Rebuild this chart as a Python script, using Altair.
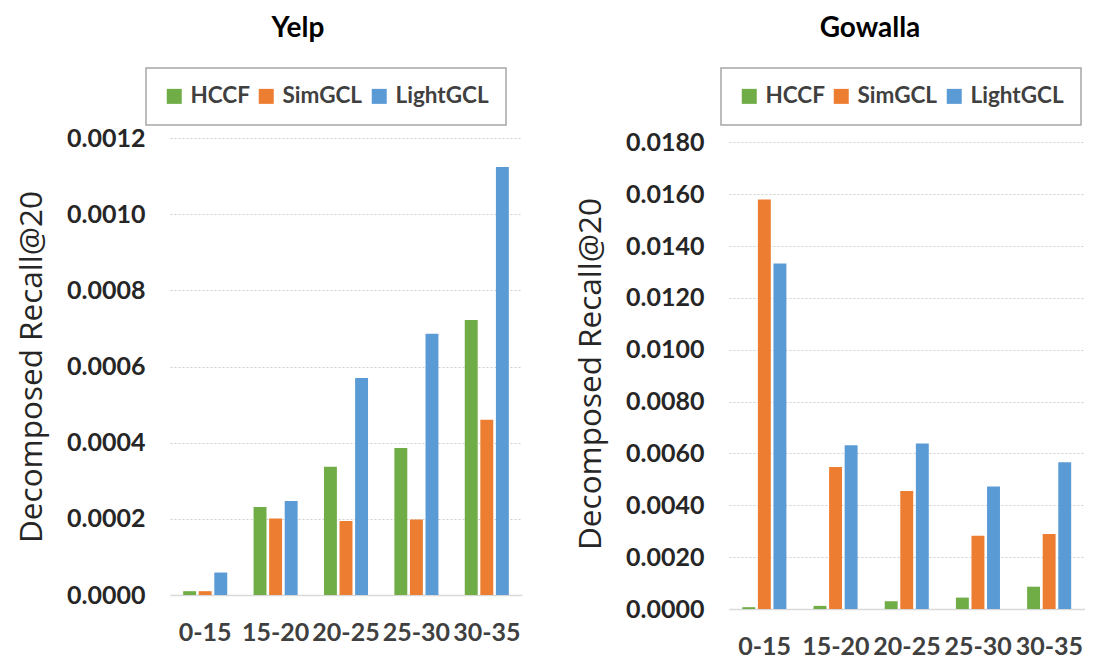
import altair as alt
import pandas as pd

categories = ["0-15", "15-20", "20-25", "25-30", "30-35"]
methods = ["HCCF", "SimGCL", "LightGCL"]
colors = ["#70ad47", "#ed7d31", "#5b9bd5"]

yelp_hccf = [0.00001, 0.000231, 0.000337, 0.000386, 0.000722]
yelp_simgcl = [0.00001, 0.000201, 0.000194, 0.000198, 0.00046]
yelp_lightgcl = [0.000059, 0.000247, 0.00057, 0.000686, 0.001124]

gowalla_hccf = [0.00007, 0.00012, 0.0003, 0.00044, 0.00086]
gowalla_simgcl = [0.0158, 0.00548, 0.00455, 0.00283, 0.00289]
gowalla_lightgcl = [0.01333, 0.00632, 0.00638, 0.00473, 0.00566]

yelp_ticks = [0.0, 0.0002, 0.0004, 0.0006, 0.0008, 0.0010, 0.0012]
gowalla_ticks = [0.0, 0.002, 0.004, 0.006, 0.008, 0.010, 0.012, 0.014, 0.016, 0.018]


def make_df(series):
    rows = []
    for m, vals in zip(methods, series):
        for c, v in zip(categories, vals):
            rows.append({"group": c, "method": m, "value": v})
    return pd.DataFrame(rows)


yelp_df = make_df([yelp_hccf, yelp_simgcl, yelp_lightgcl])
gowalla_df = make_df([gowalla_hccf, gowalla_simgcl, gowalla_lightgcl])

LABEL_FONT = "Lato"


def panel(df, title, ymax, ticks, w, h, legend_x, title_dx):
    return alt.Chart(df).mark_bar().encode(
        x=alt.X("group:N", sort=categories,
                scale=alt.Scale(paddingInner=0.374, paddingOuter=0.187),
                axis=alt.Axis(title=None, labelAngle=0, labelFont=LABEL_FONT,
                              labelFontWeight="bold", labelFontSize=25,
                              labelColor="#404040", labelPadding=25,
                              ticks=False, grid=False, domainColor="#d9d9d9",
                              domainWidth=1.5)),
        xOffset=alt.XOffset("method:N", sort=methods,
                            scale=alt.Scale(paddingInner=0.17, paddingOuter=0)),
        y=alt.Y("value:Q",
                scale=alt.Scale(domain=[0, ymax], nice=False, zero=True),
                axis=alt.Axis(title="Decomposed Recall@20", values=ticks, format=".4f",
                              labelFont=LABEL_FONT, labelFontWeight="bold",
                              labelFontSize=25, labelColor="#262626",
                              labelPadding=25, ticks=False, domain=False,
                              grid=True, gridColor="#d0d0d0", gridDash=[2, 2],
                              gridWidth=1.2,
                              titleFont="Open Sans", titleFontSize=31.5,
                              titleFontWeight="normal", titleColor="#262626",
                              titlePadding=18)),
        color=alt.Color("method:N", sort=methods,
                        scale=alt.Scale(domain=methods, range=colors),
                        legend=alt.Legend(orient="none", legendX=legend_x, legendY=-70,
                                          direction="horizontal", title=None,
                                          symbolType="square", symbolSize=225,
                                          symbolStrokeWidth=0,
                                          labelFont=LABEL_FONT, labelFontWeight="bold",
                                          labelFontSize=22.5, labelColor="#404040",
                                          labelOffset=5, columnPadding=5,
                                          padding=17, strokeColor="#a6a6a6",
                                          fillColor="white", labelLimit=300)),
    ).properties(
        width=w, height=h,
        title=alt.Title(title, font=LABEL_FONT, fontSize=28, fontWeight="bold",
                        color="black", anchor="middle", frame="group",
                        dx=title_dx, offset=24),
    )


left = panel(yelp_df, "Yelp", 0.0012, yelp_ticks, 352, 457, -24, -48)
right = panel(gowalla_df, "Gowalla", 0.01817, gowalla_ticks, 356, 471, -8, -37)

chart = alt.hconcat(left, right, spacing=207, bounds="flush").resolve_scale(
    color="independent"
).properties(
    padding={"left": 8, "top": 7, "right": 0, "bottom": 5}
).configure_view(stroke=None).configure_legend(strokeWidth=1.5)

chart.save("out.html", embed_options={"renderer": "svg", "actions": False})
